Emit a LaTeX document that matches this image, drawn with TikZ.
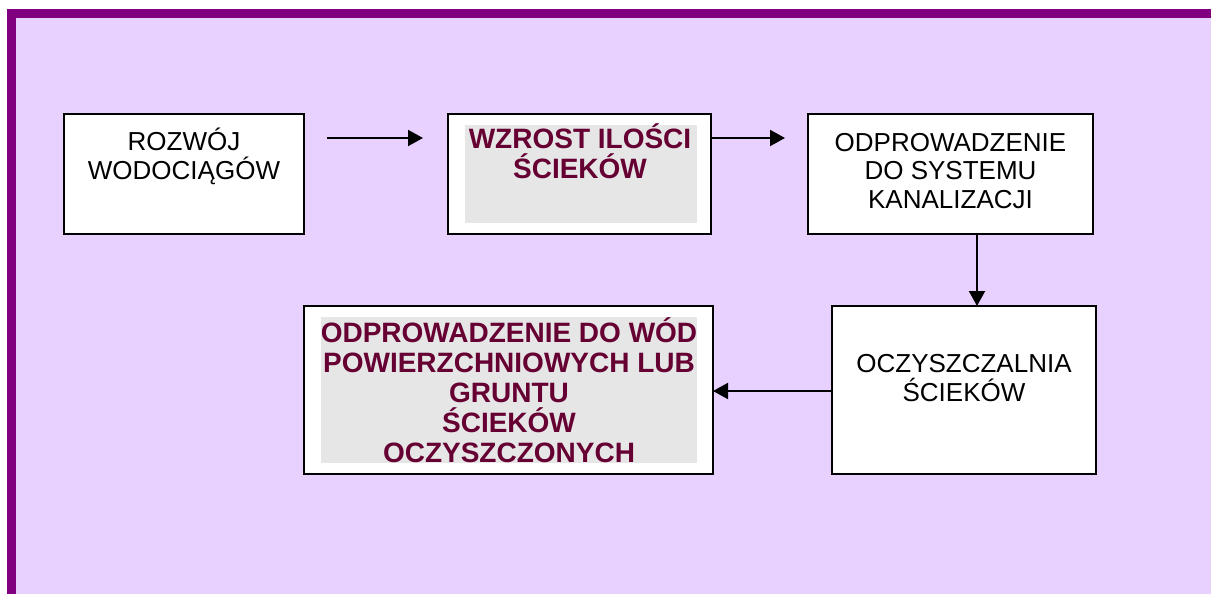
\documentclass[tikz,border=0pt]{standalone}
\usepackage{fontspec}
\setmainfont{Liberation Sans}
\usetikzlibrary{arrows.meta}
\definecolor{framepurple}{HTML}{800080}
\definecolor{lavender}{HTML}{E8D0FF}
\definecolor{panelgray}{HTML}{E6E6E6}
\definecolor{maroon}{HTML}{660033}
\tikzset{
  stepbox/.style={draw=black, line width=1.5pt, fill=white, inner sep=0pt, outer sep=0pt},
  graybox/.style={fill=panelgray, draw=none, inner sep=0pt, outer sep=0pt},
  plaintext/.style={align=center, anchor=base, inner sep=0pt, font=\fontsize{26}{28.5}\selectfont},
  boldtext/.style={align=center, anchor=base, inner sep=0pt, text=maroon, font=\fontsize{28}{30}\selectfont\bfseries},
  arr/.style={line width=2pt, -{Triangle[length=15pt,width=16pt]}}
}
\begin{document}
\begin{tikzpicture}[x=1pt,y=-1pt]
\useasboundingbox (0,0) rectangle (1211,594);
\fill[white] (0,0) rectangle (1211,594);
\fill[framepurple] (7,9) rectangle (1211,594);
\fill[lavender] (16,18) rectangle (1211,594);

\node[stepbox, minimum width=240pt, minimum height=120pt] (b1) at (184,174) {};
\node[stepbox, minimum width=263pt, minimum height=120pt] (b2) at (579.5,174) {};
\node[graybox, minimum width=232pt, minimum height=98pt] (g2) at (581,174) {};
\node[stepbox, minimum width=285pt, minimum height=120pt] (b3) at (950.5,174) {};
\node[stepbox, minimum width=264pt, minimum height=168pt] (b4) at (964,390) {};
\node[stepbox, minimum width=409pt, minimum height=168pt] (b5) at (508.5,390) {};
\node[graybox, minimum width=376pt, minimum height=146pt] (g5) at (509,390) {};

\node[plaintext] (t1) at (184,179) {ROZWÓJ\\WODOCIĄGÓW};
\node[boldtext] (t2) at (580,178) {WZROST ILOŚCI\\ŚCIEKÓW};
\node[plaintext] (t3) at (950.5,208) {ODPROWADZENIE\\DO SYSTEMU\\KANALIZACJI};
\node[plaintext] (t4) at (964,401) {OCZYSZCZALNIA\\ŚCIEKÓW};
\node[boldtext] (t5) at (509,462) {ODPROWADZENIE DO WÓD\\POWIERZCHNIOWYCH LUB\\GRUNTU\\ŚCIEKÓW\\OCZYSZCZONYCH};

\coordinate (yA) at (0,138);
\coordinate (xV) at (977,0);
\coordinate (yB) at (0,391);
\draw[arr, shorten <=23pt, shorten >=25pt] (b1.east |- yA) -- (b2.west |- yA);
\draw[arr, shorten >=23pt] (b2.east |- yA) -- (b3.west |- yA);
\draw[arr] (b3.south -| xV) -- (b4.north -| xV);
\draw[arr] (b4.west |- yB) -- (b5.east |- yB);
\end{tikzpicture}
\end{document}
